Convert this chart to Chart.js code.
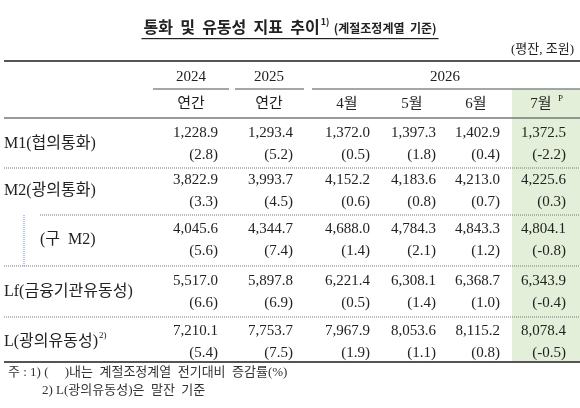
<!DOCTYPE html>
<html><head><meta charset="utf-8">
<script src="https://cdn.jsdelivr.net/npm/chart.js@4"></script>
<style>html,body{margin:0;padding:0;background:#fff}#wrap{width:580px;height:408px}</style>
</head><body><div id="wrap"><canvas id="tbl"></canvas></div>
<script>
/* table values */
const years = ["2024", "2025", "2026"];
const periods = ["연간", "연간", "4월", "5월", "6월", "7월"];
const rowLabels = ["M1(협의통화)", "M2(광의통화)", "(구  M2)", "Lf(금융기관유동성)", "L(광의유동성)"];
const levels = [
    ["1,228.9", "1,293.4", "1,372.0", "1,397.3", "1,402.9", "1,372.5"],
    ["3,822.9", "3,993.7", "4,152.2", "4,183.6", "4,213.0", "4,225.6"],
    ["4,045.6", "4,344.7", "4,688.0", "4,784.3", "4,843.3", "4,804.1"],
    ["5,517.0", "5,897.8", "6,221.4", "6,308.1", "6,368.7", "6,343.9"],
    ["7,210.1", "7,753.7", "7,967.9", "8,053.6", "8,115.2", "8,078.4"]
];
const changes = [
    ["(2.8)", "(5.2)", "(0.5)", "(1.8)", "(0.4)", "(-2.2)"],
    ["(3.3)", "(4.5)", "(0.6)", "(0.8)", "(0.7)", "(0.3)"],
    ["(5.6)", "(7.4)", "(1.4)", "(2.1)", "(1.2)", "(-0.8)"],
    ["(6.6)", "(6.9)", "(0.5)", "(1.4)", "(1.0)", "(-0.4)"],
    ["(5.4)", "(7.5)", "(1.9)", "(1.1)", "(0.8)", "(-0.5)"]
];

// layout (page units, mapped through the chart's scales)
const colRight = [218, 293, 370, 436, 500, 566];
const colCenter = [191, 269, 347, 412, 476, 541];
const rowTop = [133, 180, 229, 281, 331];
const serif = "'Liberation Serif','Noto Sans CJK KR',serif";

const tablePlugin = {
    id: "table",
    beforeDatasetsDraw(chart){
        const c = chart.ctx, X = v => chart.scales.x.getPixelForValue(v), Y = v => chart.scales.y.getPixelForValue(v);
        c.save();
        // highlighted latest column
        c.fillStyle = "#e3efd9";
        c.fillRect(X(512), Y(89), X(580) - X(512), Y(362) - Y(89));
        function line(x1, y1, x2, y2, w, dash, col){
            c.beginPath(); c.lineWidth = w; c.strokeStyle = col || "#555"; c.setLineDash(dash || []);
            c.moveTo(X(x1), Y(y1)); c.lineTo(X(x2), Y(y2)); c.stroke();
        }
        line(4, 61, 580, 61, 2);
        line(153, 89, 229, 89, 1.5, null, "#888");
        line(235, 89, 304, 89, 1.5, null, "#888");
        line(312, 89, 580, 89, 1.5, null, "#888");
        line(4, 118, 580, 118, 1.5, null, "#777");
        line(4, 168, 580, 168, 1, [1, 1], "#777");
        line(40, 215, 580, 215, 1, [1, 1], "#777");
        line(24, 215, 24, 266, 1, [1, 1], "#6a8fc0");
        line(4, 266, 580, 266, 1, [1, 1], "#777");
        line(4, 317, 580, 317, 1, [1, 1], "#777");
        line(4, 362, 580, 362, 2);
        c.setLineDash([]);
        c.fillStyle = "#222";
        c.textBaseline = "middle";
        // title
        const t1 = "통화  및  유동성  지표  추이", t2 = "(계절조정계열  기준)";
        c.font = "bold 12px 'Noto Sans CJK KR'";
        const tw2 = c.measureText(t2).width;
        c.font = "bold 16px 'Noto Sans CJK KR'";
        const tw = c.measureText(t1).width;
        const tx = X(290) - (tw + tw2 + 14) / 2;
        c.textAlign = "left";
        c.fillText(t1, tx, Y(27));
        c.font = "bold 9px 'Noto Sans CJK KR'";
        c.fillText("1)", tx + tw + 1, Y(22));
        c.font = "bold 12px 'Noto Sans CJK KR'";
        c.fillText(t2, tx + tw + 14, Y(28));
        c.fillRect(tx - 2, Y(38), tw + tw2 + 18, 1.2);
        c.font = "13px " + serif;
        c.textAlign = "right";
        c.fillText("(평잔, 조원)", X(574), Y(50));
        // headers
        c.font = "15px " + serif;
        c.textAlign = "center";
        c.fillText(years[0], X(colCenter[0]), Y(77));
        c.fillText(years[1], X(colCenter[1]), Y(77));
        c.fillText(years[2], X(445), Y(77));
        periods.forEach((p, i) => c.fillText(p, X(colCenter[i]), Y(104)));
        c.font = "9px " + serif;
        c.textAlign = "left";
        c.fillText("P", X(colCenter[5] + 17), Y(99));
        // body
        rowLabels.forEach((lab, r) => {
            c.font = "16px " + serif;
            c.textAlign = "left";
            const lx = r === 2 ? 40 : 4;
            c.fillText(lab, X(lx), Y(rowTop[r] + 11));
            if (r === 4){
                const w = c.measureText(lab).width;
                c.font = "9px " + serif;
                c.fillText("2)", X(lx) + w + 1, Y(rowTop[r] + 5));
            }
            c.font = "15px " + serif;
            c.textAlign = "right";
            levels[r].forEach((v, i) => c.fillText(v, X(colRight[i]), Y(rowTop[r])));
            changes[r].forEach((v, i) => c.fillText(v, X(colRight[i]), Y(rowTop[r] + 22)));
        });
        // notes
        c.font = "13px " + serif;
        c.textAlign = "left";
        c.fillStyle = "#333";
        c.fillText("주 : 1) (     )내는  계절조정계열  전기대비  증감률(%)", X(8), Y(373));
        c.fillText("2) L(광의유동성)은  말잔  기준", X(42), Y(391));
        c.restore();
    }
};

new Chart(document.getElementById("tbl"), {
    type: "scatter",
    data: {datasets: [{data: [], pointRadius: 0}]},
    options: {
        animation: false,
        responsive: true,
        maintainAspectRatio: false,
        layout: {padding: 0},
        scales: {
            x: {type: "linear", min: 0, max: 580, display: false},
            y: {type: "linear", min: 0, max: 408, reverse: true, display: false}
        },
        plugins: {legend: {display: false}, tooltip: {enabled: false}}
    },
    plugins: [tablePlugin]
});
</script>
</body></html>
